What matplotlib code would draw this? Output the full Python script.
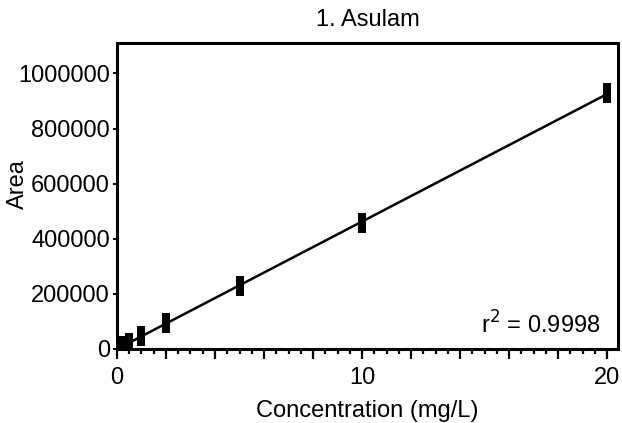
import numpy as np
import matplotlib
matplotlib.use("Agg")
import matplotlib.pyplot as plt
from matplotlib.path import Path
from matplotlib.ticker import MultipleLocator

plt.rcParams['font.family'] = ['Liberation Sans', 'DejaVu Sans']

# Asulam calibration data
conc = [0.1, 0.2, 0.5, 1, 2, 5, 10, 20]
area = [4800, 9500, 23500, 46500, 93000, 230000, 458000, 928000]
r2_text = "r$^2$ = 0.9998"

fig = plt.figure(figsize=(6.22, 4.23), dpi=100)
ax = fig.add_axes([0.188, 0.175, 0.806, 0.723])

# linear fit through the points
k, b = np.polyfit(conc, area, 1)
xf = np.array([min(conc), max(conc)])
ax.plot(xf, k * xf + b, color="black", lw=1.8, zorder=2)

# bar-shaped symbols (GraphPad style)
bar = Path([(-0.18, -0.5), (0.18, -0.5), (0.18, 0.5), (-0.18, 0.5), (-0.18, -0.5)],
           [Path.MOVETO, Path.LINETO, Path.LINETO, Path.LINETO, Path.CLOSEPOLY])
ax.plot(conc, area, ls="none", marker=bar, ms=15, color="black", mew=0, zorder=3)

ax.set_xlim(0, 20.45)
ax.set_ylim(0, 1.11e6)

ax.xaxis.set_major_locator(MultipleLocator(2))
ax.xaxis.set_minor_locator(MultipleLocator(0.5))
ax.xaxis.set_major_formatter(lambda v, p: f"{v:.0f}" if round(v) % 10 == 0 else "")
ax.yaxis.set_major_locator(MultipleLocator(200000))
ax.yaxis.set_major_formatter(lambda v, p: f"{v:.0f}")

for s in ax.spines.values():
    s.set_linewidth(2.2)
ax.tick_params(axis="x", which="major", length=7, width=1.6, pad=6, labelsize=17)
ax.tick_params(axis="x", which="minor", length=3.5, width=1.6)
ax.tick_params(axis="y", which="major", length=3, width=1.4, pad=2, labelsize=17)

ax.set_xlabel("Concentration (mg/L)", fontsize=17, labelpad=8)
ax.set_ylabel("Area", fontsize=17)
ax.yaxis.set_label_coords(-0.176, 0.54)
ax.set_title("1. Asulam", fontsize=17, pad=12)

ax.text(0.965, 0.08, r2_text, transform=ax.transAxes, ha="right", va="center",
        fontsize=17)

fig.savefig("out.png", dpi=100)
